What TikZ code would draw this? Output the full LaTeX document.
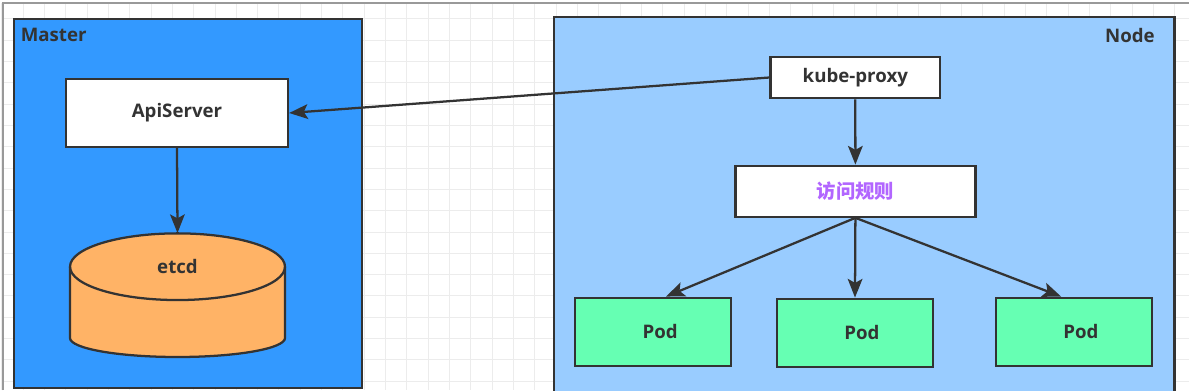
\documentclass[tikz,border=0pt]{standalone}
\usepackage{fontspec}
\setmainfont{Open Sans}
\newfontfamily\cjk{Noto Sans CJK SC}
\usetikzlibrary{arrows.meta}
\definecolor{dark}{HTML}{333333}
\definecolor{gridc}{HTML}{ECECEC}
\definecolor{masterc}{HTML}{3399FF}
\definecolor{nodec}{HTML}{99CCFF}
\definecolor{podc}{HTML}{66FFB3}
\definecolor{etcdc}{HTML}{FFB366}
\definecolor{rulec}{HTML}{B266FF}
\tikzset{
  txt/.style={font=\fontsize{14pt}{16pt}\selectfont\bfseries, text=dark},
  whitebox/.style={txt, draw=dark, line width=1.7pt, fill=white, inner sep=0pt},
  podbox/.style={txt, draw=dark, line width=1.7pt, fill=podc, inner sep=0pt,
    minimum width=117pt, minimum height=51pt},
  groupbox/.style={draw=dark, line width=1.7pt},
  arr/.style={draw=dark, line width=1.7pt, -{Stealth[length=14pt,width=11pt,inset=3pt]}}
}
\begin{document}
\begin{tikzpicture}[x=0.75pt, y=-0.75pt]
\useasboundingbox (0,0) rectangle (1189,390);
\clip (0,0) rectangle (1189,390);
\fill[white] (0,0) rectangle (1189,390);
% grid
\foreach \k in {0,...,55} {
  \draw[gridc, line width=0.75pt] ({1.7+21.33*\k},2.7) -- ({1.7+21.33*\k},390);
}
\foreach \k in {0,...,17} {
  \draw[gridc, line width=0.75pt] (2.7,{18.7+21.33*\k}) -- (1189,{18.7+21.33*\k});
}
% outer frame
\draw[gray!80, line width=1.2pt] (2.7,390) -- (2.7,2.7) -- (1189,2.7);
% group boxes
\draw[groupbox, fill=masterc] (14.3,19) rectangle (361.7,388);
\draw[groupbox, fill=nodec] (553.7,16.7) rectangle (1174.5,400);
\node[txt, anchor=west, inner sep=0pt] (mlabel) at (20.5,35) {Master};
\node[txt, anchor=east, inner sep=0pt] (nlabel) at (1155,35) {Node};
% master
\node[whitebox, minimum width=166.5pt, minimum height=51pt] (api) at (177,113) {ApiServer};
\draw[dark, line width=1.7pt, fill=etcdc]
  (70,266.7) arc (180:0:80.625pt and 25pt) -- (285,338)
  arc (0:-180:80.625pt and 14.25pt) -- cycle;
\draw[dark, line width=1.7pt] (70,266.7) arc (180:360:80.625pt and 25pt);
\node[inner sep=0pt, minimum width=161.25pt, minimum height=92.55pt] (etcd) at (177.5,295) {};
\node[txt] (etcdtext) at (177.5,266.7) {etcd};
% node
\node[whitebox, minimum width=127.3pt, minimum height=31.2pt] (proxy) at (855.3,77.5) {kube-proxy};
\node[whitebox, minimum width=180pt, minimum height=38.25pt, text=rulec, font=\fontsize{14.5pt}{16pt}\selectfont\cjk\bfseries] (rule) at (855.4,191.2) {访问规则};
\node[podbox] (p1) at (653.2,331.7) {\hspace*{10.5pt}Pod};
\node[podbox] (p2) at (855,332.7) {\hspace*{10.5pt}Pod};
\node[podbox] (p3) at (1073.9,331.7) {\hspace*{10.5pt}Pod};
% connectors
\draw[arr] (proxy.west) -- (api.east);
\draw[arr] (api.south) -- (etcd.north);
\draw[arr] (proxy.south) -- (rule.north);
\draw[arr] (rule.south) -- (p1.70);
\draw[arr] (rule.south) -- (p2.north);
\draw[arr] (rule.south) -- (p3.110);
\end{tikzpicture}
\end{document}
